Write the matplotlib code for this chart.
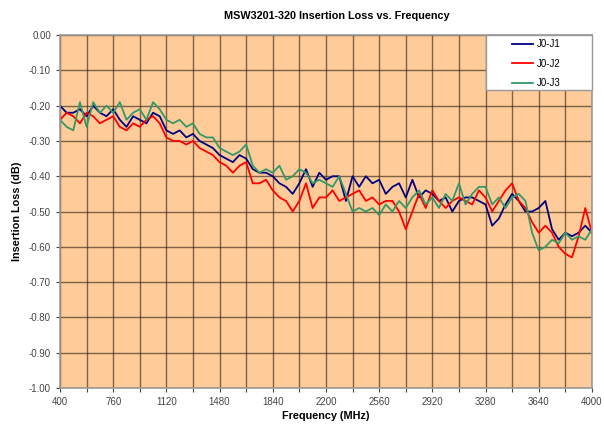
import numpy as np
import matplotlib.pyplot as plt
from matplotlib.patches import Rectangle

plt.rcParams['font.family'] = ['Liberation Sans', 'DejaVu Sans']

# frequency points (MHz), every 45 MHz
freq = np.arange(400, 4001, 45)

# insertion loss (dB) for each path
j0_j1 = [-0.20, -0.22, -0.22, -0.21, -0.23, -0.20, -0.22, -0.23, -0.21, -0.24,
         -0.26, -0.23, -0.24, -0.25, -0.22, -0.23, -0.27, -0.28, -0.27, -0.29,
         -0.28, -0.30, -0.31, -0.32, -0.34, -0.35, -0.36, -0.34, -0.35, -0.38,
         -0.39, -0.39, -0.40, -0.42, -0.43, -0.45, -0.42, -0.38, -0.43, -0.39,
         -0.41, -0.40, -0.40, -0.47, -0.40, -0.43, -0.40, -0.42, -0.41, -0.45,
         -0.43, -0.42, -0.46, -0.41, -0.46, -0.44, -0.45, -0.47, -0.46, -0.50,
         -0.47, -0.46, -0.46, -0.47, -0.48, -0.54, -0.52, -0.48, -0.45, -0.47,
         -0.50, -0.50, -0.49, -0.47, -0.55, -0.58, -0.56, -0.57, -0.56, -0.54,
         -0.56]
j0_j2 = [-0.24, -0.22, -0.23, -0.25, -0.22, -0.23, -0.25, -0.24, -0.23, -0.26,
         -0.27, -0.25, -0.26, -0.24, -0.23, -0.25, -0.29, -0.30, -0.30, -0.31,
         -0.30, -0.32, -0.33, -0.34, -0.36, -0.37, -0.39, -0.37, -0.36, -0.42,
         -0.42, -0.41, -0.44, -0.46, -0.47, -0.50, -0.47, -0.42, -0.49, -0.46,
         -0.46, -0.44, -0.47, -0.46, -0.45, -0.44, -0.47, -0.46, -0.48, -0.47,
         -0.47, -0.50, -0.55, -0.50, -0.45, -0.49, -0.44, -0.47, -0.49, -0.47,
         -0.46, -0.47, -0.48, -0.44, -0.46, -0.50, -0.47, -0.44, -0.42, -0.47,
         -0.49, -0.53, -0.56, -0.54, -0.56, -0.60, -0.62, -0.63, -0.57, -0.49,
         -0.56]
j0_j3 = [-0.24, -0.26, -0.27, -0.19, -0.26, -0.19, -0.22, -0.20, -0.22, -0.19,
         -0.24, -0.22, -0.21, -0.24, -0.19, -0.21, -0.24, -0.25, -0.24, -0.26,
         -0.25, -0.28, -0.29, -0.29, -0.32, -0.33, -0.34, -0.33, -0.31, -0.37,
         -0.39, -0.38, -0.39, -0.37, -0.41, -0.40, -0.38, -0.39, -0.42, -0.41,
         -0.42, -0.43, -0.40, -0.45, -0.50, -0.49, -0.50, -0.49, -0.51, -0.48,
         -0.50, -0.47, -0.49, -0.46, -0.44, -0.48, -0.46, -0.49, -0.45, -0.47,
         -0.42, -0.48, -0.45, -0.43, -0.43, -0.48, -0.46, -0.49, -0.46, -0.45,
         -0.47, -0.56, -0.61, -0.60, -0.58, -0.59, -0.56, -0.58, -0.57, -0.58,
         -0.55]

series_names = ["J0-J1", "J0-J2", "J0-J3"]
colors = ["#000080", "#FF0000", "#339966"]

x_ticks = np.arange(400, 4001, 180)
x_labels = [str(v) if (v - 400) % 360 == 0 else "" for v in x_ticks]
y_ticks = np.round(np.arange(-1.0, 0.001, 0.1), 2)
y_labels = ["%.2f" % abs(v) if v == 0 else "%.2f" % v for v in y_ticks]

fig = plt.figure(figsize=(6.04, 4.28), dpi=100)
ax = fig.add_axes([0.0993, 0.0935, 0.8807, 0.8245])
ax.set_facecolor("#FFCC99")

for vals, name, c in zip([j0_j1, j0_j2, j0_j3], series_names, colors):
    ax.plot(freq, vals, color=c, lw=1.3, label=name)

ax.set_xlim(400, 4000)
ax.set_ylim(-1.0, 0.0)
ax.set_xticks(x_ticks)
ax.set_xticklabels(x_labels)
ax.set_yticks(y_ticks)
ax.set_yticklabels(y_labels)
ax.grid(True, color="#2a1a10", lw=1.0, alpha=0.6)
ax.set_axisbelow(True)
ax.tick_params(labelsize=7, colors="#444444", length=3, width=0.8)
for s in ax.spines.values():
    s.set_color("#999999")
    s.set_linewidth(1.2)

ax.set_xlabel("Frequency (MHz)", fontsize=7.8, fontweight="bold", labelpad=3)
ax.set_ylabel("Insertion Loss (dB)", fontsize=7.8, fontweight="bold", labelpad=5)
fig.text(0.558, 0.963, "MSW3201-320 Insertion Loss vs. Frequency",
         ha="center", va="center", fontsize=7.8, fontweight="bold")

# white legend box in the top right corner of the plot area
ax.add_patch(Rectangle((0.80, 0.844), 0.20, 0.156, transform=ax.transAxes,
                       facecolor="white", edgecolor="#999999", lw=1.0,
                       zorder=5, clip_on=False))
leg = ax.legend(loc="center", bbox_to_anchor=(0.895, 0.919), fontsize=7,
                frameon=False, handlelength=2.2, handletextpad=0.4,
                labelspacing=1.0, borderpad=0)
leg.set_zorder(6)

fig.savefig("out.png", dpi=100)
